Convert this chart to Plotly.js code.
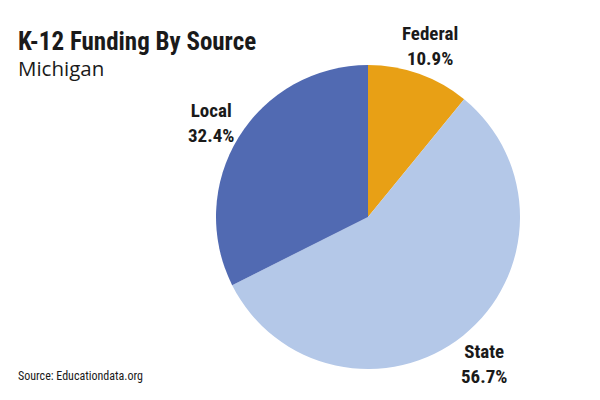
<!DOCTYPE html>
<html><head><meta charset="utf-8">
<script src="https://cdn.plot.ly/plotly-3.0.1.min.js"></script>
<style>html,body{margin:0;padding:0;background:#fff}</style>
</head><body><div id="chart" style="width:600px;height:400px"></div>
<script>
const labels = ["Federal", "State", "Local"];
const shares = [10.9, 56.7, 32.4];
const colors = ["#E8A015", "#B4C8E8", "#516AB2"];
const condensed = "'Roboto Condensed', Roboto, sans-serif";

const W = 600, H = 400;
const dom = {x: [0.36, 0.8667], y: [0.0775, 0.8375]};

const trace = {
  type: "pie",
  labels: labels,
  values: shares,
  sort: false,
  direction: "clockwise",
  rotation: 0,
  marker: {colors: colors, line: {width: 0}},
  textinfo: "none",
  hoverinfo: "none",
  showlegend: false,
  automargin: false,
  domain: dom
};

// label positions derived from the slice mid-angles
const cx = (dom.x[0] + dom.x[1]) / 2, cy = (dom.y[0] + dom.y[1]) / 2;
const rPx = (dom.x[1] - dom.x[0]) * W / 2;
const labelR = rPx + 33;
const labelDrop = 3;
const labelAnn = [];
let cum = 0;
const total = shares.reduce((a, b) => a + b, 0);
shares.forEach((v, i) => {
  const mid = (cum + v / 2) / total * 2 * Math.PI;
  cum += v;
  labelAnn.push({
    text: "<b>" + labels[i] + "</b><br><b>" + v.toFixed(1) + "%</b>",
    xref: "paper", yref: "paper",
    x: cx + labelR * Math.sin(mid) / W,
    y: cy + (labelR * Math.cos(mid) - labelDrop) / H,
    xanchor: "center", yanchor: "middle", showarrow: false,
    font: {family: condensed, size: 19, color: "#1a1a1a"}
  });
});

const layout = {
  width: W, height: H,
  margin: {l: 0, r: 0, t: 0, b: 0},
  paper_bgcolor: "#fff",
  annotations: [
    {text: "<b>K-12 Funding By Source</b>", xref: "paper", yref: "paper", x: 0.027, y: 0.896, xanchor: "left", yanchor: "middle", showarrow: false, font: {family: condensed, size: 25, color: "#1a1a1a"}},
    {text: "Michigan", xref: "paper", yref: "paper", x: 0.027, y: 0.829, xanchor: "left", yanchor: "middle", showarrow: false, font: {family: "'Open Sans', sans-serif", size: 20.5, color: "#1a1a1a"}},
    {text: "Source: Educationdata.org", xref: "paper", yref: "paper", x: 0.027, y: 0.06, xanchor: "left", yanchor: "middle", showarrow: false, font: {family: condensed, size: 12, color: "#1a1a1a"}}
  ].concat(labelAnn)
};
Plotly.newPlot("chart", [trace], layout, {displayModeBar: false, staticPlot: true});
</script></body></html>
